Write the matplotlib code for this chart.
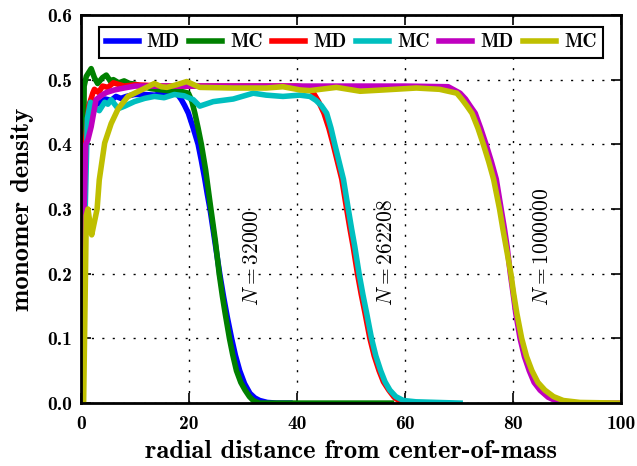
import matplotlib
matplotlib.use("Agg")
import matplotlib.pyplot as plt

plt.rcParams['font.family'] = ['cmb10', 'DejaVu Serif']
plt.rcParams['mathtext.fontset'] = 'cm'
plt.rcParams['axes.unicode_minus'] = False

# N = 32000
md1_x = [0.3, 0.8, 1.3, 2.0, 3.0, 3.7, 4.5, 5.6, 6.5, 7.4, 8.4, 9.9, 11.8, 13.6, 14.3, 16.0, 17.1, 18.0,
         18.6, 19.2, 19.9, 20.8, 21.7, 22.3, 22.9, 23.4, 23.9, 24.8, 25.7, 26.4, 27.1, 27.9, 28.6, 29.4,
         30.3, 31.3, 32.2, 33.1, 34.5, 36.2, 38.7]
md1_y = [0.0, 0.40, 0.455, 0.47, 0.462, 0.465, 0.47, 0.468, 0.474, 0.471, 0.474, 0.477, 0.477, 0.476,
         0.477, 0.481, 0.484, 0.476, 0.469, 0.46, 0.448, 0.425, 0.40, 0.375, 0.348, 0.323, 0.30, 0.25,
         0.20, 0.165, 0.133, 0.10, 0.074, 0.05, 0.03, 0.015, 0.008, 0.004, 0.001, 0.0, 0.0]
mc1_x = [0.3, 0.6, 1.0, 1.9, 2.5, 3.1, 4.0, 4.7, 5.5, 6.0, 7.0, 8.0, 9.0, 10.0, 11.0, 12.0, 13.0, 14.0,
         15.0, 16.0, 17.0, 18.0, 19.0, 19.9, 20.5, 21.1, 21.7, 22.3, 23.1, 23.9, 24.9, 25.6, 26.2, 26.7,
         27.5, 28.1, 28.8, 29.6, 30.4, 31.2, 31.9, 33.0, 57.5]
mc1_y = [0.0, 0.49, 0.505, 0.517, 0.503, 0.494, 0.503, 0.507, 0.497, 0.5, 0.495, 0.498, 0.494, 0.493,
         0.49, 0.488, 0.486, 0.485, 0.484, 0.483, 0.482, 0.482, 0.481, 0.479, 0.468, 0.448, 0.425, 0.40,
         0.36, 0.31, 0.25, 0.20, 0.165, 0.139, 0.10, 0.075, 0.05, 0.032, 0.02, 0.01, 0.004, 0.0, 0.0]

# N = 262208
md2_x = [0.3, 0.8, 1.5, 2.2, 2.5, 3.3, 4.0, 5.0, 6.0, 8.0, 10.0, 15.0, 20.0, 30.0, 40.0, 42.0, 43.0,
         44.0, 45.0, 45.9, 46.7, 47.5, 48.3, 49.2, 49.8, 50.4, 51.2, 51.9, 52.6, 53.5, 54.3, 55.2, 56.0,
         57.0, 58.0, 59.0, 60.0]
md2_y = [0.0, 0.40, 0.46, 0.479, 0.485, 0.48, 0.49, 0.488, 0.495, 0.49, 0.492, 0.49, 0.49, 0.49, 0.49,
         0.488, 0.48, 0.466, 0.448, 0.425, 0.40, 0.373, 0.346, 0.30, 0.27, 0.242, 0.20, 0.168, 0.139,
         0.10, 0.073, 0.05, 0.033, 0.02, 0.009, 0.003, 0.0]
mc2_x = [0.3, 0.8, 1.2, 1.8, 2.3, 2.8, 3.4, 4.4, 5.0, 5.6, 6.9, 8.1, 9.9, 11.8, 13.6, 15.4, 17.3, 19.1,
         20.8, 22.0, 24.5, 28.2, 31.9, 34.3, 37.4, 40.5, 42.4, 43.5, 44.5, 45.5, 46.3, 47.0, 47.8, 48.6,
         49.5, 50.1, 50.7, 51.5, 52.2, 52.9, 53.8, 54.6, 55.5, 56.3, 57.2, 58.3, 59.7, 62.0, 66.0, 70.2]
mc2_y = [0.0, 0.30, 0.44, 0.465, 0.455, 0.455, 0.452, 0.465, 0.462, 0.469, 0.455, 0.459, 0.466, 0.471,
         0.474, 0.472, 0.477, 0.475, 0.469, 0.459, 0.466, 0.470, 0.479, 0.476, 0.474, 0.476, 0.474,
         0.468, 0.46, 0.448, 0.425, 0.40, 0.373, 0.346, 0.30, 0.27, 0.242, 0.20, 0.168, 0.139, 0.10,
         0.073, 0.05, 0.033, 0.02, 0.01, 0.004, 0.002, 0.001, 0.0]

# N = 1000000
md3_x = [0.3, 0.6, 0.9, 1.3, 1.9, 2.8, 3.7, 4.7, 6.2, 8.0, 10.0, 20.0, 40.0, 60.0, 68.0, 70.2, 71.2,
         72.0, 73.0, 74.0, 75.0, 76.0, 76.9, 77.8, 78.4, 78.9, 79.5, 80.0, 80.5, 81.3, 82.1, 83.0, 83.9,
         85.0, 86.5, 87.8, 89.5, 100.0]
md3_y = [0.0, 0.30, 0.40, 0.407, 0.427, 0.469, 0.475, 0.48, 0.484, 0.487, 0.49, 0.49, 0.49, 0.49, 0.489,
         0.479, 0.47, 0.46, 0.448, 0.425, 0.40, 0.373, 0.346, 0.30, 0.27, 0.242, 0.20, 0.17, 0.139, 0.10,
         0.072, 0.05, 0.032, 0.02, 0.009, 0.004, 0.0, 0.0]
mc3_x = [0.5, 1.0, 1.3, 2.0, 2.5, 3.0, 3.4, 4.4, 5.6, 6.9, 8.7, 11.2, 13.6, 14.9, 15.9, 17.7, 19.6,
         22.0, 28.2, 34.3, 37.4, 40.6, 42.4, 47.3, 51.7, 56.0, 62.1, 66.4, 68.0, 69.6, 70.5, 71.4, 72.4,
         73.5, 74.5, 75.5, 76.4, 77.5, 78.1, 78.7, 79.6, 80.1, 80.7, 81.6, 82.5, 83.5, 84.6, 85.9, 87.5,
         89.3, 92.4, 100.0]
mc3_y = [0.0, 0.29, 0.30, 0.26, 0.28, 0.30, 0.345, 0.402, 0.432, 0.455, 0.474, 0.484, 0.494, 0.489,
         0.488, 0.492, 0.497, 0.488, 0.487, 0.487, 0.489, 0.484, 0.483, 0.488, 0.482, 0.484, 0.487,
         0.485, 0.482, 0.479, 0.47, 0.46, 0.448, 0.425, 0.40, 0.373, 0.346, 0.30, 0.27, 0.242, 0.20,
         0.17, 0.139, 0.10, 0.072, 0.05, 0.032, 0.02, 0.01, 0.004, 0.001, 0.0]

series = [
    (md1_x, md1_y, '#0000ff', 'MD'),
    (mc1_x, mc1_y, '#008000', 'MC'),
    (md2_x, md2_y, '#ff0000', 'MD'),
    (mc2_x, mc2_y, '#00bfbf', 'MC'),
    (md3_x, md3_y, '#bf00bf', 'MD'),
    (mc3_x, mc3_y, '#bfbf00', 'MC'),
]
n_labels = [(31.6, r'$N=32000$'), (56.5, r'$N=262208$'), (85.3, r'$N=1000000$')]

fig = plt.figure(figsize=(6.37, 4.66), dpi=100)
ax = fig.add_axes([0.127, 0.135, 0.848, 0.833])

for x, y, c, lab in series:
    ax.plot(x, y, color=c, lw=4, label=lab, solid_joinstyle='round')

for xpos, txt in n_labels:
    ax.text(xpos, 0.15, txt, rotation=90, ha='center', va='bottom', fontsize=15.5,
            family='DejaVu Serif')

ax.set_xlim(0, 100)
ax.set_ylim(0, 0.6)
ax.set_xticks([0, 20, 40, 60, 80, 100])
ax.set_yticks([0.0, 0.1, 0.2, 0.3, 0.4, 0.5, 0.6])
ax.set_yticklabels(['0.0', '0.1', '0.2', '0.3', '0.4', '0.5', '0.6'])
ax.grid(True, color='black', linestyle=(0, (1.5, 6)), linewidth=1)
ax.tick_params(direction='in', length=7, width=1.2, top=True, right=True, labelsize=14)
ax.tick_params(axis='x', pad=8.5)
ax.tick_params(axis='y', pad=6.5)
for sp in ax.spines.values():
    sp.set_linewidth(2)

ax.set_xlabel('radial distance from center-of-mass', fontsize=19.2, labelpad=5)
ax.set_ylabel('monomer density', fontsize=19.2, labelpad=9)

leg = ax.legend(loc='upper center', ncol=6, fontsize=14, handlelength=1.7, handletextpad=0.4,
                columnspacing=0.5, borderaxespad=0.6, fancybox=False, framealpha=1, borderpad=0.35)
leg.get_frame().set_edgecolor('black')
leg.get_frame().set_linewidth(1.5)

fig.savefig('out.png', dpi=100)
